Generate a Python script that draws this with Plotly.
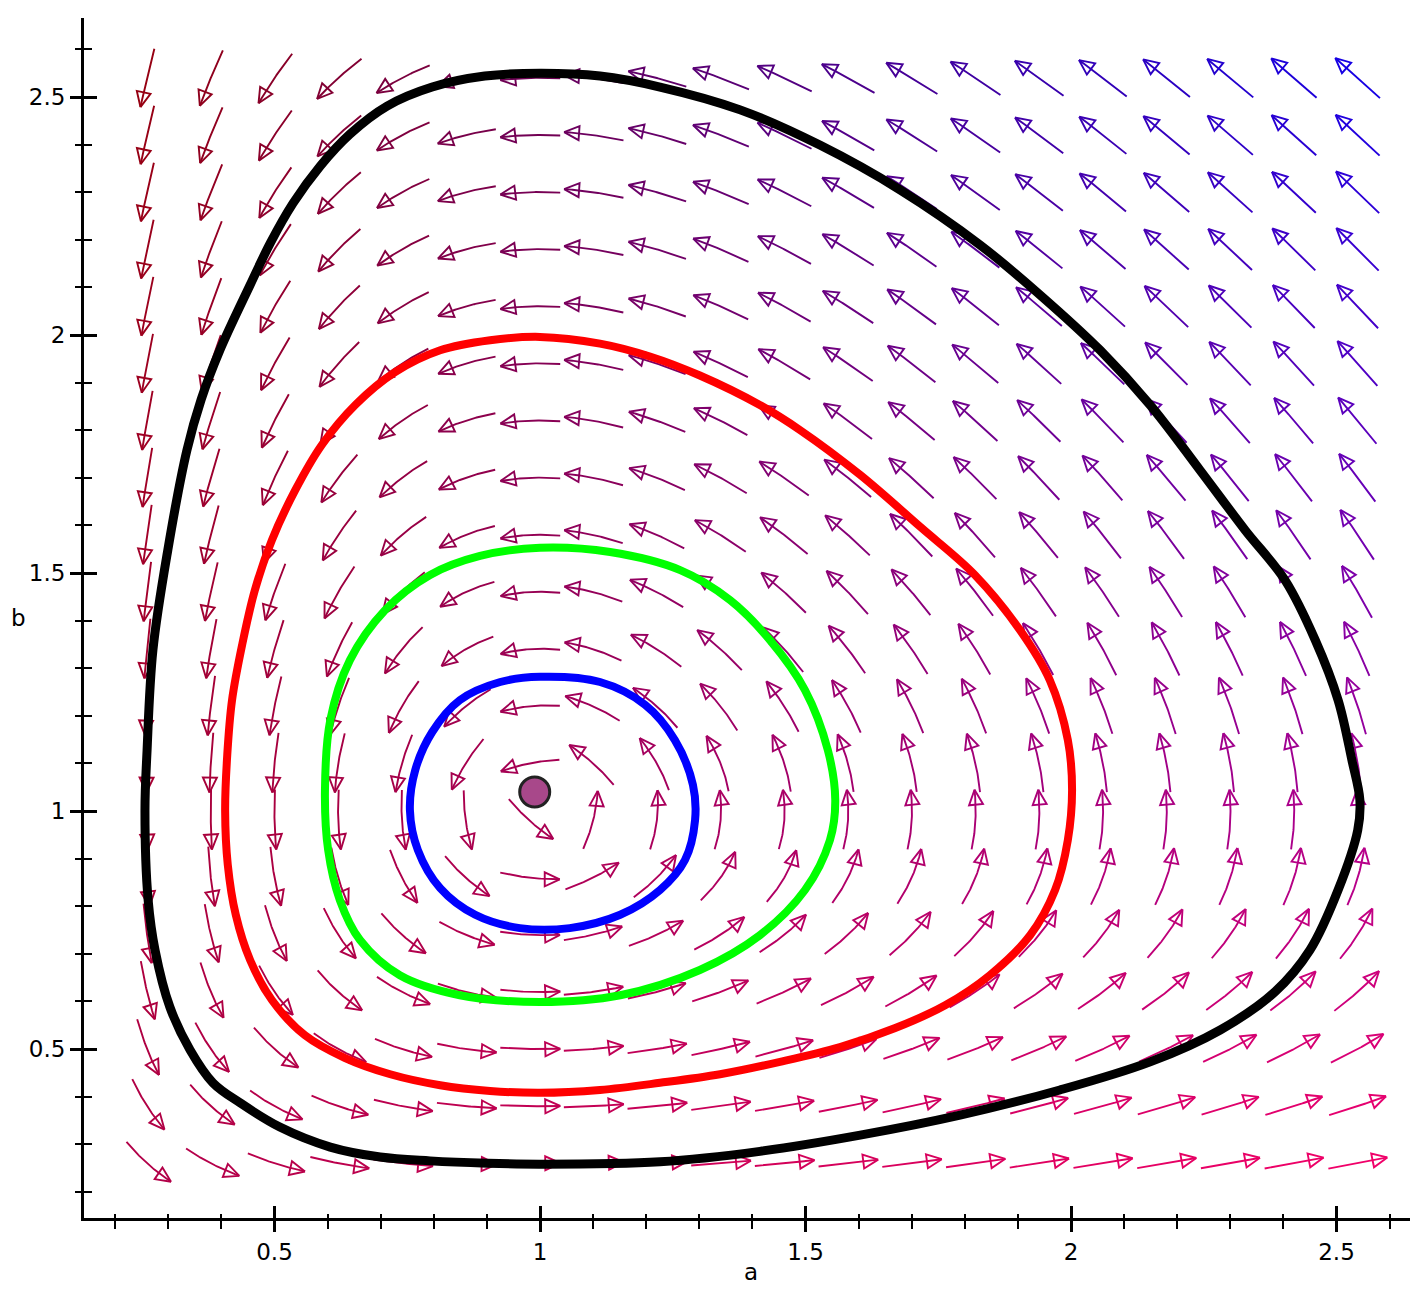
import math
import plotly.graph_objects as go

# ---------------- data ----------------
# arrow grid (cell centres of the direction field)
A_GRID = [0.26, 0.38, 0.50, 0.62, 0.74, 0.86, 0.98, 1.10, 1.22, 1.34,
          1.46, 1.58, 1.70, 1.82, 1.94, 2.06, 2.18, 2.30, 2.42, 2.54]
B_GRID = [0.26, 0.38, 0.50, 0.62, 0.74, 0.86, 0.98, 1.10, 1.22, 1.34,
          1.46, 1.58, 1.70, 1.82, 1.94, 2.06, 2.18, 2.30, 2.42, 2.54]
# system: a' = a*(ALPHA - BETA*b), b' = b*(DELTA*a - GAMMA)
ALPHA, BETA, GAMMA, DELTA = 1.0, 1.0, 1.0, 1.0

# trajectories (a, b)
BLUE_A = [1.000, 1.113, 1.198, 1.254, 1.288, 1.292, 1.273, 1.226, 1.151, 1.056,
          0.962, 0.878, 0.812, 0.770, 0.755, 0.765, 0.797, 0.849, 0.925]
BLUE_B = [1.282, 1.271, 1.223, 1.149, 1.055, 0.981, 0.897, 0.834, 0.782, 0.754,
          0.754, 0.782, 0.838, 0.918, 1.002, 1.086, 1.166, 1.233, 1.271]

GREEN_A = [1.000, 0.887, 0.793, 0.708, 0.642, 0.605, 0.595, 0.601, 0.623, 0.661,
           0.736, 0.849, 1.000, 1.151, 1.301, 1.414, 1.499, 1.546, 1.556, 1.542,
           1.499, 1.433, 1.358, 1.264, 1.132]
GREEN_B = [1.553, 1.536, 1.496, 1.422, 1.317, 1.191, 1.044, 0.918, 0.813, 0.729,
           0.655, 0.613, 0.599, 0.613, 0.666, 0.739, 0.834, 0.939, 1.023, 1.128,
           1.254, 1.359, 1.443, 1.506, 1.544]

RED_A = [1.000, 0.906, 0.812, 0.727, 0.652, 0.589, 0.539, 0.495, 0.463, 0.439,
         0.420, 0.411, 0.407, 0.412, 0.427, 0.454, 0.495, 0.557, 0.633, 0.718,
         0.812, 0.906, 1.000, 1.113, 1.226, 1.339, 1.452, 1.565, 1.669, 1.763,
         1.847, 1.923, 1.970, 1.994, 2.002, 1.994, 1.960, 1.904, 1.819, 1.716,
         1.603, 1.490, 1.414, 1.301, 1.207, 1.113]
RED_B = [1.996, 1.989, 1.968, 1.922, 1.853, 1.769, 1.674, 1.569, 1.464, 1.349,
         1.233, 1.118, 1.000, 0.887, 0.782, 0.687, 0.603, 0.529, 0.481, 0.447,
         0.424, 0.412, 0.408, 0.414, 0.429, 0.447, 0.473, 0.504, 0.544, 0.592,
         0.655, 0.739, 0.834, 0.939, 1.044, 1.149, 1.275, 1.380, 1.496, 1.597,
         1.706, 1.800, 1.853, 1.915, 1.955, 1.982]

BLACK_A = [1.000, 0.896, 0.797, 0.712, 0.642, 0.586, 0.535, 0.492, 0.454, 0.397,
           0.362, 0.335, 0.299, 0.271, 0.260, 0.256, 0.262, 0.275, 0.303, 0.341,
           0.384, 0.435, 0.510, 0.605, 0.699, 0.793, 0.900, 1.000, 1.226, 1.414,
           1.603, 1.791, 1.979, 2.149, 2.281, 2.384, 2.450, 2.503, 2.540, 2.544,
           2.529, 2.503, 2.460, 2.403, 2.328, 2.243, 2.149, 2.055, 1.942, 1.829,
           1.678, 1.527, 1.377, 1.226, 1.113]
BLACK_B = [2.550, 2.544, 2.521, 2.481, 2.422, 2.355, 2.277, 2.193, 2.105, 1.968,
           1.865, 1.758, 1.548, 1.338, 1.128, 1.000, 0.813, 0.708, 0.588, 0.498,
           0.429, 0.387, 0.336, 0.294, 0.273, 0.265, 0.260, 0.258, 0.263, 0.285,
           0.319, 0.361, 0.414, 0.473, 0.540, 0.620, 0.708, 0.834, 0.960, 1.023,
           1.107, 1.233, 1.359, 1.485, 1.590, 1.716, 1.853, 1.968, 2.084, 2.189,
           2.305, 2.399, 2.473, 2.521, 2.544]

POINT_A = [0.99]
POINT_B = [1.04]

# ---------------- layout constants ----------------
# the page body has an 8px margin, so the figure is sized to fit the window
W, H = 1402, 1279
ML, MR, MT, MB = 76, 0, 10, 69
XR = [0.1412, 2.6384]
YR = [0.1450, 2.6660]
SX = (W - ML - MR) / (XR[1] - XR[0])   # px per unit
SY = (H - MT - MB) / (YR[1] - YR[0])

# arrow colours (bilinear over the field)
C_BL, C_BR = (178, 0, 72), (240, 0, 105)
C_TL, C_TR = (150, 0, 18), (22, 0, 228)

ARROW_LEN = 60.0    # px
ARROW_TMAX = 0.3    # cap of the integration time of one arrow
HEAD_L, HEAD_W = 15.0, 7.0


def field(a, b):
    return a * (ALPHA - BETA * b), b * (DELTA * a - GAMMA)


def integrate(a, b, t, n=24):
    h = t / n
    pts = [(a, b)]
    for _ in range(n):
        k1 = field(a, b)
        k2 = field(a + h / 2 * k1[0], b + h / 2 * k1[1])
        k3 = field(a + h / 2 * k2[0], b + h / 2 * k2[1])
        k4 = field(a + h * k3[0], b + h * k3[1])
        a += h / 6 * (k1[0] + 2 * k2[0] + 2 * k3[0] + k4[0])
        b += h / 6 * (k1[1] + 2 * k2[1] + 2 * k3[1] + k4[1])
        pts.append((a, b))
    return pts


def colour(a, b):
    u = (a - A_GRID[0]) / (A_GRID[-1] - A_GRID[0])
    v = (b - B_GRID[0]) / (B_GRID[-1] - B_GRID[0])
    c = [C_BL[k] * (1 - u) * (1 - v) + C_BR[k] * u * (1 - v)
         + C_TL[k] * (1 - u) * v + C_TR[k] * u * v for k in range(3)]
    return "rgb(%d,%d,%d)" % tuple(int(round(x)) for x in c)


fig = go.Figure()

for a0 in A_GRID:
    for b0 in B_GRID:
        fa, fb = field(a0, b0)
        speed_px = math.hypot(fa * SX, fb * SY) or 1e-9
        T = min(ARROW_LEN / speed_px, ARROW_TMAX)
        back = integrate(a0, b0, -T / 2)
        fwd = integrate(a0, b0, T / 2)
        path = back[::-1] + fwd[1:]
        px = [((p[0] - a0) * SX, (p[1] - b0) * SY) for p in path]
        L = sum(math.hypot(px[i + 1][0] - px[i][0], px[i + 1][1] - px[i][1])
                for i in range(len(px) - 1)) or 1.0
        k = ARROW_LEN / L
        px = [(x * k, y * k) for x, y in px]
        xs = [a0 + x / SX for x, y in px]
        ys = [b0 + y / SY for x, y in px]
        tx, ty = px[-1]
        dx, dy = tx - px[-3][0], ty - px[-3][1]
        n = math.hypot(dx, dy) or 1.0
        dx, dy = dx / n, dy / n
        nx, ny = -dy, dx
        bx, by = tx - HEAD_L * dx, ty - HEAD_L * dy
        head = [(tx, ty), (bx + HEAD_W * nx, by + HEAD_W * ny),
                (bx - HEAD_W * nx, by - HEAD_W * ny), (tx, ty)]
        xs += [None] + [a0 + x / SX for x, y in head]
        ys += [None] + [b0 + y / SY for x, y in head]
        fig.add_trace(go.Scatter(x=xs, y=ys, mode="lines",
                                 line=dict(color=colour(a0, b0), width=1.9),
                                 hoverinfo="skip", showlegend=False))


def closed(xs, ys):
    return list(xs) + [xs[0]], list(ys) + [ys[0]]


for xa, yb, col, wd in [(BLACK_A, BLACK_B, "black", 9),
                        (RED_A, RED_B, "#ff0000", 8),
                        (GREEN_A, GREEN_B, "#00ff00", 8),
                        (BLUE_A, BLUE_B, "#0000ff", 8)]:
    cx, cy = closed(xa, yb)
    fig.add_trace(go.Scatter(x=cx, y=cy, mode="lines",
                             line=dict(color=col, width=wd, shape="spline", smoothing=1.0),
                             showlegend=False, hoverinfo="skip"))

fig.add_trace(go.Scatter(x=POINT_A, y=POINT_B, mode="markers",
                         marker=dict(size=30, color="#a8488a",
                                     line=dict(color="#222222", width=3)),
                         showlegend=False, hoverinfo="skip"))

# dummy trace for the overlay axes (inner halves of the ticks)
fig.add_trace(go.Scatter(x=[None], y=[None], xaxis="x2", yaxis="y2",
                         showlegend=False, hoverinfo="skip"))

FONT = dict(family="DejaVu Sans", size=23, color="black")
common = dict(showgrid=False, zeroline=False, tickmode="linear", tick0=0,
              dtick=0.5, tickcolor="black", tickwidth=2.5, automargin=False)
fig.update_layout(
    width=W, height=H,
    margin=dict(l=ML, r=MR, t=MT, b=MB),
    plot_bgcolor="white", paper_bgcolor="white",
    xaxis=dict(range=XR, showline=True, linecolor="black", linewidth=3,
               ticks="outside", ticklen=11, tickfont=FONT,
               minor=dict(ticks="outside", ticklen=8, tickwidth=2,
                          tickcolor="black", dtick=0.1, tick0=0),
               **common),
    yaxis=dict(range=YR, showline=True, linecolor="black", linewidth=3,
               ticks="outside", ticklen=11, tickfont=FONT,
               minor=dict(ticks="outside", ticklen=6, tickwidth=2,
                          tickcolor="black", dtick=0.1, tick0=0),
               **common),
    xaxis2=dict(range=XR, overlaying="x", anchor="y", side="bottom",
                ticks="inside", ticklen=12, showticklabels=False, showline=False,
                minor=dict(ticks="inside", ticklen=4, tickwidth=2,
                           tickcolor="black", dtick=0.1, tick0=0),
                **common),
    yaxis2=dict(range=YR, overlaying="y", anchor="x", side="left",
                ticks="inside", ticklen=13, showticklabels=False, showline=False,
                minor=dict(ticks="inside", ticklen=8, tickwidth=2,
                           tickcolor="black", dtick=0.1, tick0=0),
                **common),
    annotations=[
        dict(text="a", xref="paper", yref="paper", x=(751 - 84) / (W - ML - MR),
             y=-69 / 1200, showarrow=False, font=FONT,
             xanchor="center", yanchor="bottom"),
        dict(text="b", xref="paper", yref="paper", x=-66 / (W - ML - MR), y=0.5,
             showarrow=False, font=FONT, xanchor="center", yanchor="middle"),
    ],
)

fig.write_html("out.html")
